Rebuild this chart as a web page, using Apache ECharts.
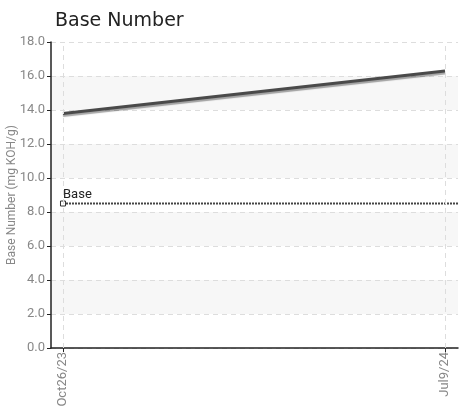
<!DOCTYPE html>
<html><head><meta charset="utf-8">
<script src="https://cdn.jsdelivr.net/npm/echarts@6/dist/echarts.min.js"></script>
<style>html,body{margin:0;padding:0;background:#fff}#c{width:467px;height:406px}</style>
</head><body><div id="c"></div>
<script>
const categories = ['Oct26/23', 'Jul9/24'];
const baseNumber = [13.8, 16.3];
const baseValue = 8.5;
const baseLabel = 'Base';
const yTicks = [0, 2, 4, 6, 8, 10, 12, 14, 16, 18];

const xMin = -0.0314, xMax = 1.034;
const chart = echarts.init(document.getElementById('c'), null, {renderer: 'canvas'});
const narrow = "Roboto, 'Liberation Sans', sans-serif";
chart.setOption({
  animation: false,
  title: {text: 'Base Number', left: 50, top: 7, textStyle: {fontFamily: 'DejaVu Sans', fontSize: 19, fontWeight: 'normal', color: '#222'}},
  grid: {left: 51, right: 9, top: 42, bottom: 58, containLabel: false, outerBoundsMode: 'none'},
  xAxis: {
    type: 'value', min: xMin, max: xMax,
    axisLine: {show: true, onZero: false, lineStyle: {color: '#222', width: 1.5}},
    axisTick: {show: true, customValues: categories.map((_, i) => i), length: 4, inside: false, lineStyle: {color: '#222'}},
    axisLabel: {customValues: categories.map((_, i) => i), rotate: 90, formatter: v => categories[Math.round(v)] || '', color: '#888', fontFamily: narrow, fontSize: 13, margin: 4},
    splitLine: {show: false}
  },
  yAxis: {
    type: 'value', min: 0, max: 18, interval: 2,
    name: 'Base Number (mg KOH/g)', nameLocation: 'middle', nameGap: 33, nameRotate: 90, nameMoveOverlap: false,
    nameTextStyle: {color: '#888', fontFamily: narrow, fontSize: 12},
    axisLine: {show: true, onZero: false, lineStyle: {color: '#222', width: 1.5}},
    axisTick: {show: true, length: 4, lineStyle: {color: '#222'}},
    axisLabel: {formatter: v => v.toFixed(1), color: '#888', fontFamily: narrow, fontSize: 13, margin: 6},
    splitLine: {show: true, lineStyle: {color: '#ddd', type: [5, 4]}},
    splitArea: {show: true, areaStyle: {color: ['#ffffff', '#f7f7f7']}}
  },
  series: [
    {
      type: 'line', data: categories.map((_, i) => [i, null]), symbol: 'none',
      markLine: {silent: true, symbol: 'none', label: {show: false},
        lineStyle: {color: '#ddd', type: [5, 4], width: 1},
        data: categories.map((_, i) => ({xAxis: i}))}
    },
    {
      type: 'line', data: baseNumber.map((v, i) => [i, v]), symbol: 'none',
      lineStyle: {color: '#4a4a4a', width: 3, shadowColor: 'rgba(0,0,0,0.35)', shadowOffsetY: 2, shadowBlur: 1}
    },
    {
      type: 'line', data: [[0, baseValue], [xMax, baseValue]],
      symbol: (v, p) => p.dataIndex === 0 ? 'rect' : 'none', symbolSize: 5,
      itemStyle: {color: '#fff', borderColor: '#333', borderWidth: 1},
      lineStyle: {color: '#444', width: 2, type: [2, 1]},
      label: {show: true, formatter: p => p.dataIndex === 0 ? baseLabel : '', position: 'right', offset: [-8, -9], color: '#222', fontFamily: narrow, fontSize: 13}
    }
  ]
});
</script></body></html>
